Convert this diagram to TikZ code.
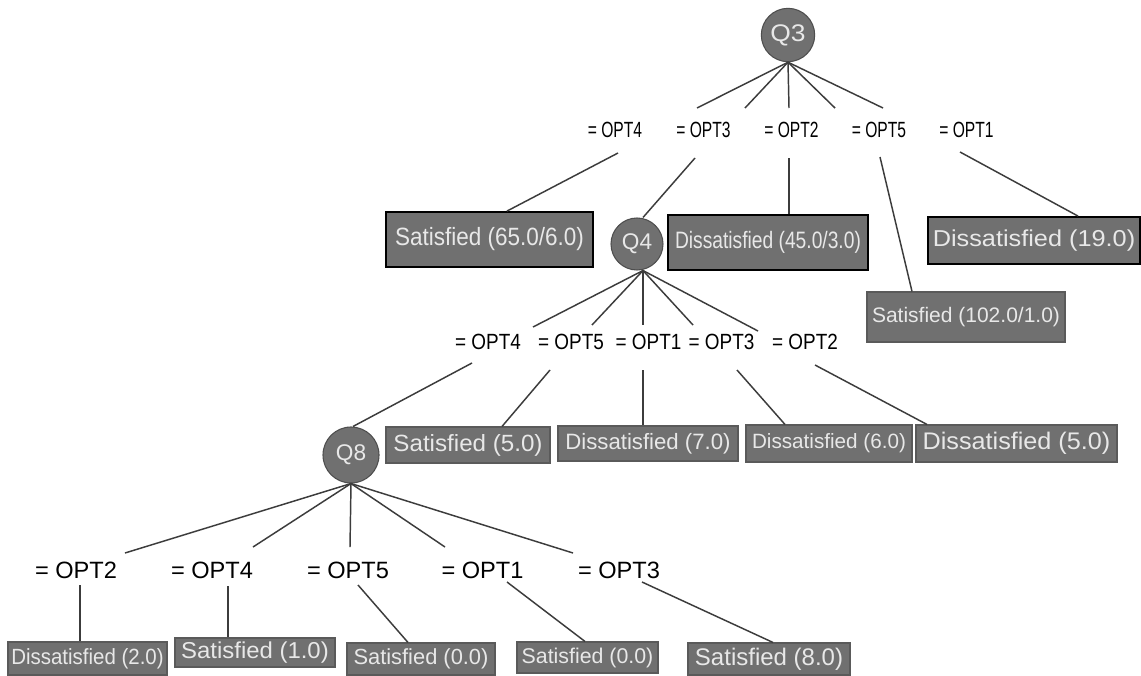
\documentclass[tikz,border=0pt]{standalone}
\usepackage{fontspec}
\setmainfont{Liberation Sans}
\usetikzlibrary{calc}
\definecolor{boxgray}{RGB}{112,112,112}
\definecolor{txtgray}{RGB}{232,232,232}
\definecolor{edgegray}{RGB}{60,60,60}
\newcommand{\txt}[3]{\fontsize{#1}{#1}\selectfont\scalebox{#2}[1]{#3}}
\tikzset{
  qnode/.style={circle, fill=boxgray, draw=boxgray!70!black, line width=0.8pt, minimum size=#1, inner sep=0pt, text=txtgray},
  leaf/.style={rectangle, fill=boxgray, draw=boxgray!80!black, line width=0.8pt, inner sep=0pt, text=txtgray},
  leafb/.style={leaf, draw=black, line width=1.4pt},
  lbl/.style={inner sep=0pt, text=black},
  edge/.style={draw=edgegray, line width=1.1pt},
}
\begin{document}
\begin{tikzpicture}[x=0.75pt,y=-0.75pt]
\useasboundingbox[fill=white] (0,0) rectangle (1141,675);

% ---------- decision nodes ----------
\node[qnode=40pt] (Q3) at (788,35) {\txt{18pt}{1.1}{Q3}};
\node[qnode=39pt] (Q4) at (637,244) {\txt{17pt}{1}{Q4}};
\node[qnode=42pt] (Q8) at (351,455) {\txt{17pt}{1}{Q8}};

% ---------- level 1 labels ----------
\node[lbl] (a1) at (615,130) {\txt{16.5pt}{0.71}{= OPT4}};
\node[lbl] (a2) at (703.5,130) {\txt{16.5pt}{0.71}{= OPT3}};
\node[lbl] (a3) at (791.5,130) {\txt{16.5pt}{0.71}{= OPT2}};
\node[lbl] (a4) at (879,130) {\txt{16.5pt}{0.71}{= OPT5}};
\node[lbl] (a5) at (966.5,130) {\txt{16.5pt}{0.71}{= OPT1}};

% ---------- level 1 leaves ----------
\node[leafb, minimum width=207*0.75pt, minimum height=55*0.75pt] (S65) at (489.5,239.5) {\txt{18.75pt}{0.9}{Satisfied (65.0/6.0)}};
\node[leafb, minimum width=200*0.75pt, minimum height=55*0.75pt] (D45) at (768,242.5) {\txt{17.8pt}{0.81}{Dissatisfied (45.0/3.0)}};
\node[leafb, minimum width=212*0.75pt, minimum height=47*0.75pt] (D19) at (1034,240.5) {\txt{17.25pt}{1.1}{Dissatisfied (19.0)}};
\node[leaf, minimum width=198*0.75pt, minimum height=50*0.75pt] (S102) at (966,317) {\txt{15.75pt}{1}{Satisfied (102.0/1.0)}};

% ---------- level 2 labels ----------
\node[lbl] (b1) at (488,342) {\txt{16.5pt}{0.86}{= OPT4}};
\node[lbl] (b2) at (571,342) {\txt{16.5pt}{0.86}{= OPT5}};
\node[lbl] (b3) at (648.5,342) {\txt{16.5pt}{0.86}{= OPT1}};
\node[lbl] (b4) at (721.5,342) {\txt{16.5pt}{0.86}{= OPT3}};
\node[lbl] (b5) at (805,342) {\txt{16.5pt}{0.86}{= OPT2}};

% ---------- level 2 leaves ----------
\node[leaf, minimum width=164*0.75pt, minimum height=36*0.75pt] (S5) at (468,445) {\txt{17.6pt}{1.03}{Satisfied (5.0)}};
\node[leaf, minimum width=180*0.75pt, minimum height=35*0.75pt] (D7) at (648,443.5) {\txt{16.65pt}{1}{Dissatisfied (7.0)}};
\node[leaf, minimum width=166*0.75pt, minimum height=37*0.75pt] (D6) at (829,443.5) {\txt{15.5pt}{1}{Dissatisfied (6.0)}};
\node[leaf, minimum width=201*0.75pt, minimum height=37*0.75pt] (D5) at (1016.5,443.5) {\txt{18pt}{1.05}{Dissatisfied (5.0)}};

% ---------- level 3 labels ----------
\node[lbl] (c1) at (76,570) {\txt{17.7pt}{1}{= OPT2}};
\node[lbl] (c2) at (212,570) {\txt{17.7pt}{1}{= OPT4}};
\node[lbl] (c3) at (348,570) {\txt{17.7pt}{1}{= OPT5}};
\node[lbl] (c4) at (482.5,570) {\txt{17.7pt}{1}{= OPT1}};
\node[lbl] (c5) at (619,570) {\txt{17.7pt}{1}{= OPT3}};

% ---------- level 3 leaves ----------
\node[leaf, minimum width=159*0.75pt, minimum height=33*0.75pt] (D2) at (87.5,658.5) {\txt{16.5pt}{0.93}{Dissatisfied (2.0)}};
\node[leaf, minimum width=160*0.75pt, minimum height=29*0.75pt] (S1) at (255,652.5) {\txt{17.25pt}{1.04}{Satisfied (1.0)}};
\node[leaf, minimum width=148*0.75pt, minimum height=32*0.75pt] (S0a) at (421,659) {\txt{16.4pt}{1}{Satisfied (0.0)}};
\node[leaf, minimum width=141*0.75pt, minimum height=31*0.75pt] (S0b) at (587.5,657.5) {\txt{16pt}{1}{Satisfied (0.0)}};
\node[leaf, minimum width=162*0.75pt, minimum height=32*0.75pt] (S8) at (769,659) {\txt{18pt}{1}{Satisfied (8.0)}};

% ---------- free ends of connectors ----------
\coordinate (qa1) at (697,108);  \coordinate (qa2) at (745,108);
\coordinate (qa3) at (789,108);  \coordinate (qa4) at (835,108);
\coordinate (qa5) at (883,108);
\coordinate (la1) at (618,153);  \coordinate (la2) at (695,158);
\coordinate (la3) at (789,158);  \coordinate (la4) at (880,157);
\coordinate (la5) at (960,152);
\coordinate (qb1) at (533,327);  \coordinate (qb2) at (592,325);
\coordinate (qb3) at (643,325);  \coordinate (qb4) at (693,325);
\coordinate (qb5) at (758,331);
\coordinate (lb1) at (472,363);  \coordinate (lb2) at (550,370);
\coordinate (lb3) at (643,370);  \coordinate (lb4) at (737,370);
\coordinate (lb5) at (815,365);
\coordinate (qc1) at (125,553);  \coordinate (qc2) at (253,547);
\coordinate (qc3) at (350,547);  \coordinate (qc4) at (445,547);
\coordinate (qc5) at (573,553);
\coordinate (lc1) at (80,585);   \coordinate (lc2) at (228,586);
\coordinate (lc3) at (358,585);  \coordinate (lc4) at (507,582);
\coordinate (lc5) at (642,582);
% x positions where lower connectors meet leaves
\coordinate (xa1) at (507,0); \coordinate (xa3) at (789,0);
\coordinate (xa4) at (912,0); \coordinate (xa5) at (1078,0);
\coordinate (xb2) at (502,0); \coordinate (xb3) at (643,0);
\coordinate (xb4) at (785,0); \coordinate (xb5) at (927,0);
\coordinate (xc1) at (80,0);  \coordinate (xc2) at (228,0);
\coordinate (xc3) at (408,0); \coordinate (xc4) at (585,0);
\coordinate (xc5) at (773,0);

% ---------- connectors ----------
\begin{scope}[edge]
\foreach \i in {1,...,5} \draw (Q3.south) -- (qa\i);
\draw (la1) -- (S65.north -| xa1);
\draw (la2) -- ($(Q4.north)+(6,0)$);
\draw (la3) -- (D45.north -| xa3);
\draw (la4) -- (S102.north -| xa4);
\draw (la5) -- (D19.north -| xa5);

\foreach \i in {1,...,5} \draw ($(Q4.south)+(6,0)$) -- (qb\i);
\draw (lb1) -- ($(Q8.north)+(2,0)$);
\draw (lb2) -- (S5.north -| xb2);
\draw (lb3) -- (D7.north -| xb3);
\draw (lb4) -- (D6.north -| xb4);
\draw (lb5) -- (D5.north -| xb5);

\foreach \i in {1,...,5} \draw (Q8.south) -- (qc\i);
\draw (lc1) -- (D2.north -| xc1);
\draw (lc2) -- (S1.north -| xc2);
\draw (lc3) -- (S0a.north -| xc3);
\draw (lc4) -- (S0b.north -| xc4);
\draw (lc5) -- (S8.north -| xc5);
\end{scope}
\end{tikzpicture}
\end{document}
